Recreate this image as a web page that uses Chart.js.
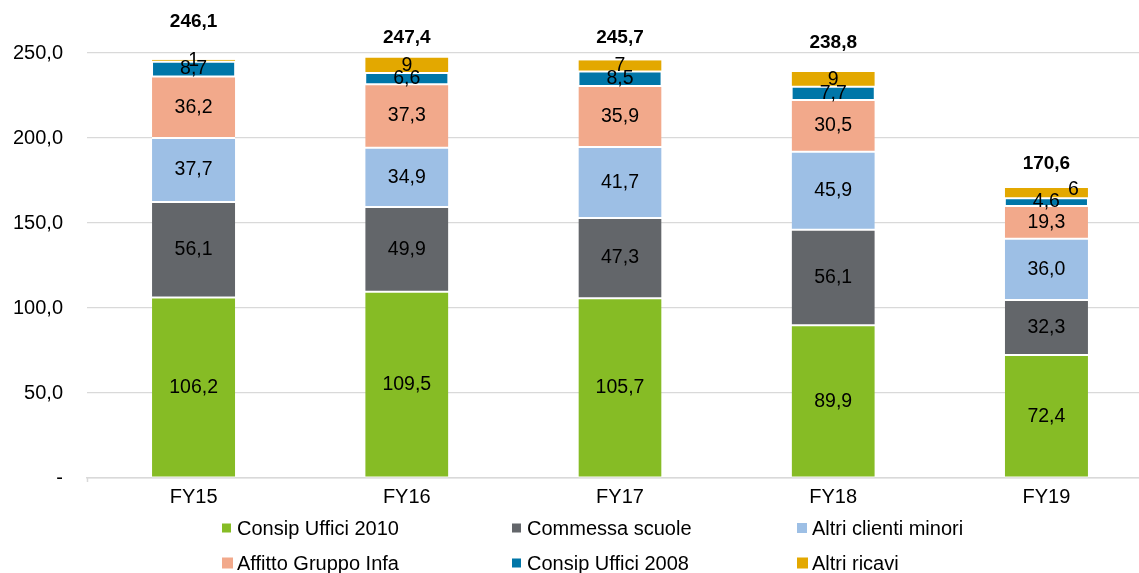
<!DOCTYPE html>
<html>
<head>
<meta charset="utf-8">
<script src="https://cdn.jsdelivr.net/npm/chart.js@4/dist/chart.umd.min.js"></script>
<style>
  html, body { margin: 0; padding: 0; background: #fff; overflow: hidden; }
  #wrap { position: relative; width: 1160px; height: 573px; }
</style>
</head>
<body>
<div id="wrap"><canvas id="c"></canvas></div>
<script>
const categories = ['FY15', 'FY16', 'FY17', 'FY18', 'FY19'];
const consipUffici2010 = [106.2, 109.5, 105.7, 89.9, 72.4];
const commessaScuole = [56.1, 49.9, 47.3, 56.1, 32.3];
const altriClientiMinori = [37.7, 34.9, 41.7, 45.9, 36.0];
const affittoGruppoInfa = [36.2, 37.3, 35.9, 30.5, 19.3];
const consipUffici2008 = [8.7, 6.6, 8.5, 7.7, 4.6];
const altriRicavi = [1.2, 9.2, 6.6, 8.7, 6.0];
const totals = [246.1, 247.4, 245.7, 238.8, 170.6];
const yTicks = [0, 50, 100, 150, 200, 250];

// styling (kept separate from data)
const FONT = "'Liberation Sans', Arial, sans-serif";
const totalOffsets = [-38, -20, -23, -29, -24];
const labelShift = { '5-4': [27, -3] };   // manually moved label in the original
const legendCols = [222, 512, 797];
const legendRows = [528, 563];
const legendBox = [9, 9, 10, 11, 9, 11];

const fmt1 = v => v.toFixed(1).replace('.', ',');
const fmt0 = v => Math.round(v).toString();

function ds(label, data, color, decimals, border) {
  return {
    label, data, backgroundColor: color,
    borderColor: '#ffffff',
    borderWidth: border || { top: 1, bottom: 1, left: 0, right: 0 },
    borderSkipped: false,
    decimals
  };
}

const datasets = [
  ds('Consip Uffici 2010', consipUffici2010, '#86BC25', 1),
  ds('Commessa scuole', commessaScuole, '#63666A', 1),
  ds('Altri clienti minori', altriClientiMinori, '#9DBFE5', 1),
  ds('Affitto Gruppo Infa', affittoGruppoInfa, '#F2A98B', 1),
  ds('Consip Uffici 2008', consipUffici2008, '#0076A8', 1, { top: 1, bottom: 1, left: 1, right: 1 }),
  ds('Altri ricavi', altriRicavi, '#E3A800', 0, { top: 0, bottom: 1, left: 0, right: 0 })
];

const labelsPlugin = {
  id: 'labelsPlugin',
  afterDatasetsDraw(chart) {
    const ctx = chart.ctx;
    ctx.save();
    ctx.textAlign = 'center';
    ctx.textBaseline = 'middle';
    ctx.fillStyle = '#000';
    ctx.font = '19.5px ' + FONT;
    chart.data.datasets.forEach((d, di) => {
      const meta = chart.getDatasetMeta(di);
      meta.data.forEach((el, i) => {
        const p = el.getCenterPoint();
        const s = labelShift[di + '-' + i] || [0, 0];
        const txt = d.decimals === 0 ? fmt0(d.data[i]) : fmt1(d.data[i]);
        ctx.fillText(txt, p.x + s[0], p.y + s[1]);
      });
    });
    // totals
    const ys = chart.scales.y;
    const xs = chart.scales.x;
    ctx.font = 'bold 19px ' + FONT;
    totals.forEach((t, i) => {
      ctx.fillText(fmt1(t), xs.getPixelForValue(i), ys.getPixelForValue(t) + totalOffsets[i]);
    });
    ctx.restore();
  },
  afterDraw(chart) {
    const ctx = chart.ctx;
    ctx.save();
    ctx.textAlign = 'left';
    ctx.textBaseline = 'middle';
    ctx.font = '20px ' + FONT;
    chart.data.datasets.forEach((d, i) => {
      const x = legendCols[i % 3];
      const y = legendRows[Math.floor(i / 3)];
      const b = legendBox[i];
      ctx.fillStyle = d.backgroundColor;
      ctx.fillRect(x, y - b / 2, b, b);
      ctx.fillStyle = '#000';
      ctx.fillText(d.label, x + 15, y + 1);
    });
    // small tick at left end of x axis
    const ca = chart.chartArea;
    ctx.strokeStyle = '#D9D9D9';
    ctx.lineWidth = 1.5;
    ctx.beginPath();
    ctx.moveTo(ca.left + 0.5, ca.bottom);
    ctx.lineTo(ca.left + 0.5, ca.bottom + 4);
    ctx.stroke();
    ctx.restore();
  }
};

new Chart(document.getElementById('c'), {
  type: 'bar',
  data: { labels: categories, datasets },
  options: {
    responsive: true,
    maintainAspectRatio: false,
    animation: false,
    layout: { padding: { top: 53, right: 7, bottom: 0, left: 0 } },
    datasets: { bar: { categoryPercentage: 1.0, barPercentage: 0.39 } },
    plugins: { legend: { display: false }, tooltip: { enabled: false } },
    scales: {
      x: {
        stacked: true,
        grid: { display: false, drawTicks: false },
        border: { display: true, color: '#D9D9D9', width: 1.5 },
        ticks: { color: '#000', font: { family: FONT, size: 20 }, padding: 7 },
        afterFit(scale) { scale.height = 95; }
      },
      y: {
        stacked: true,
        min: 0, max: 250,
        grid: { color: '#D9D9D9', lineWidth: 1.2, drawTicks: false },
        border: { display: false },
        ticks: {
          color: '#000', font: { family: FONT, size: 20 }, padding: 24,
          callback: v => v === 0 ? '-' : fmt1(v)
        },
        afterBuildTicks(scale) { scale.ticks = yTicks.map(v => ({ value: v })); },
        afterFit(scale) { scale.width = 87; }
      }
    }
  },
  plugins: [labelsPlugin]
});
</script>
</body>
</html>
